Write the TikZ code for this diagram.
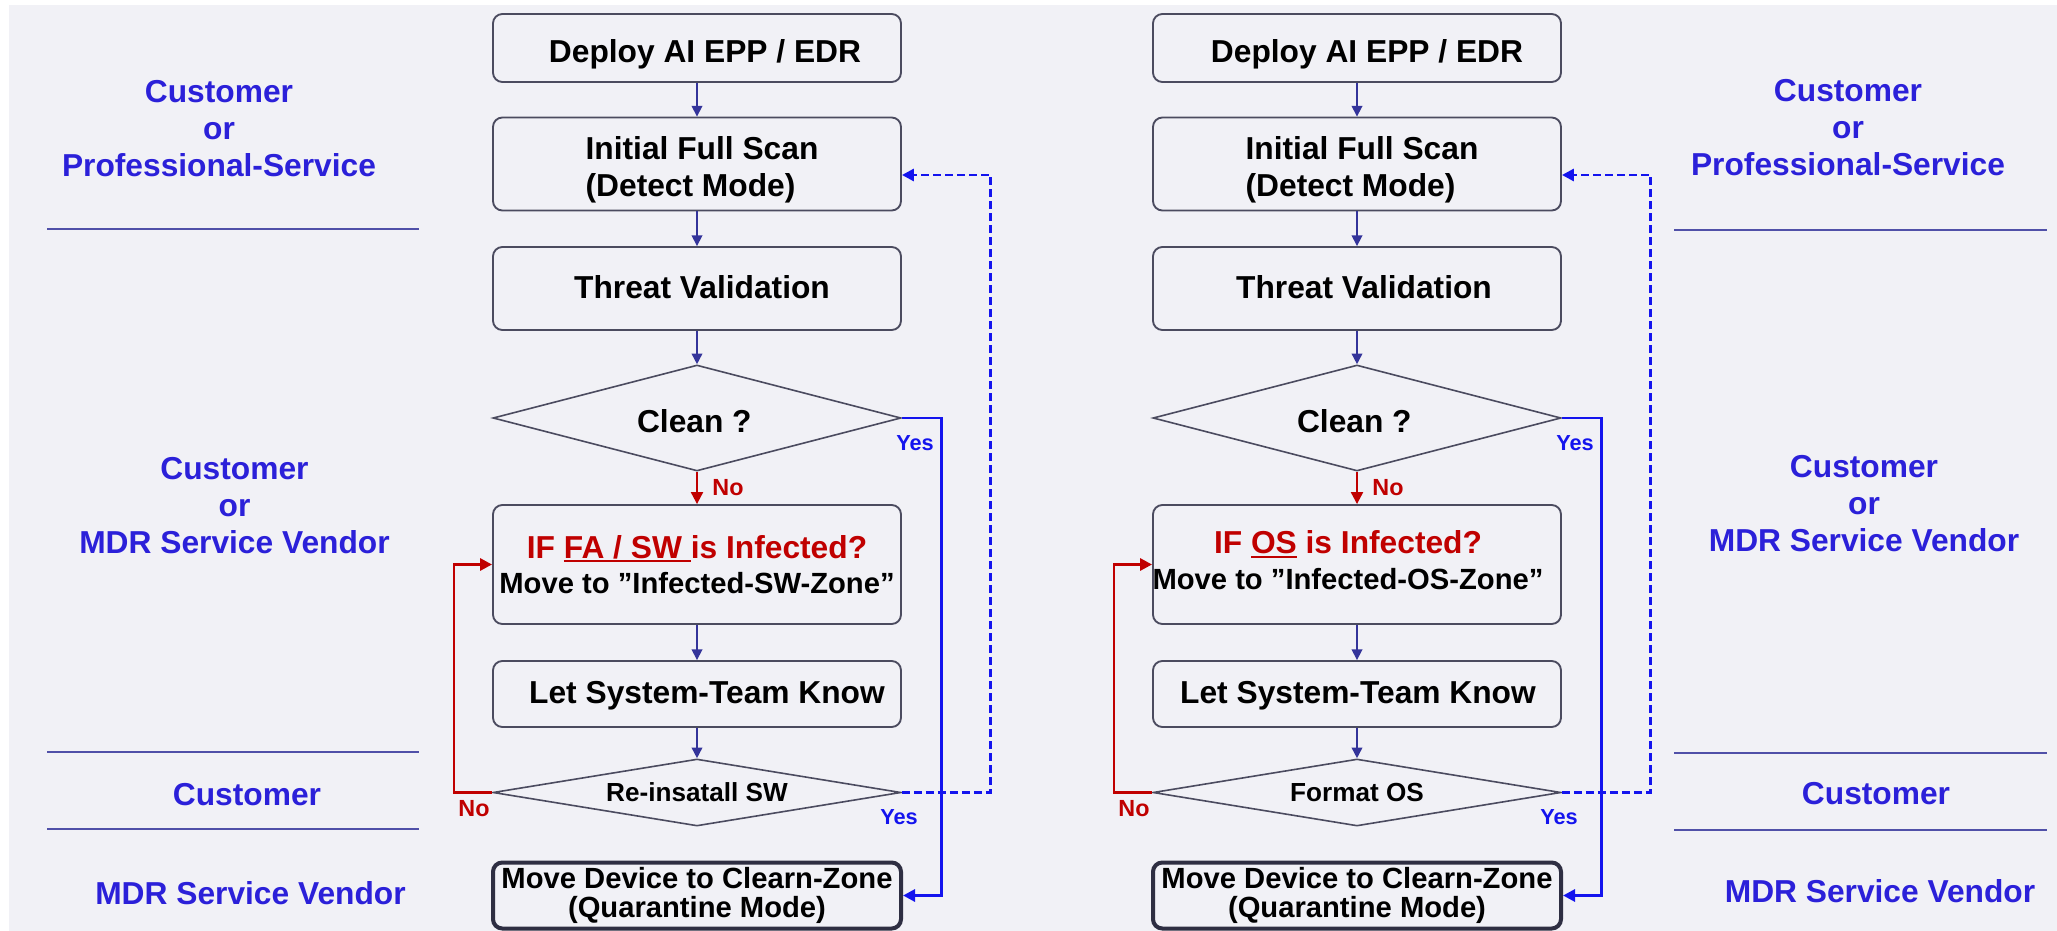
\documentclass[tikz,border=0pt]{standalone}
\usepackage{fontspec}
\setmainfont{Liberation Sans}
\usetikzlibrary{shapes.geometric,arrows.meta,calc}

\definecolor{pagebg}{HTML}{F1F1F6}
\definecolor{rolecol}{HTML}{2B20D9}
\definecolor{flowcol}{HTML}{34349A}
\definecolor{edgecol}{HTML}{4B4B5F}
\definecolor{heavyedge}{HTML}{2E2E42}
\definecolor{yescol}{HTML}{1414EE}
\definecolor{nocol}{HTML}{C00000}
\definecolor{rulecol}{HTML}{5050A8}

% underline with a rule drawn under the whole box (trailing space included)
\newcommand\ulined[1]{\setbox0=\hbox{#1}\rlap{\rule[-0.13em]{\wd0}{0.075em}}\box0\relax}
% move the ink of a box label right by #1 and down by #2, keeping its size
\newcommand\nudge[3]{\kern#1\raisebox{-#2}[\height][\depth]{#3}\kern-#1\relax}

\newcommand\bigtxt{\fontsize{23.8}{29}\selectfont\bfseries}
\newcommand\midtxt{\fontsize{21.9}{22}\selectfont\bfseries}
\newcommand\smalltxt{\fontsize{19.6}{23}\selectfont\bfseries}
\newcommand\roletxt{\fontsize{23.8}{27.75}\selectfont\bfseries}

\tikzset{
  box/.style={draw=edgecol, line width=1.4pt, rounded corners=7pt,
    minimum width=306pt, inner sep=0pt, align=center, font=\bigtxt, text=black},
  finalbox/.style={box, draw=heavyedge, line width=3pt, font=\midtxt},
  decide/.style={diamond, draw=edgecol, line width=1.2pt, minimum width=306pt,
    inner sep=0pt, text=black},
  flow/.style={draw=flowcol, line width=1.2pt, -{Triangle[length=8pt,width=8pt]}},
  yesline/.style={draw=yescol, line width=2.2pt, -{Triangle[length=9pt,width=9pt]}},
  backline/.style={yesline, dash pattern=on 6pt off 3pt},
  noline/.style={draw=nocol, line width=2.2pt, -{Triangle[length=9pt,width=9pt]}},
  yeslab/.style={text=yescol, font=\fontsize{16.3}{18}\selectfont\bfseries},
  nolab/.style={text=nocol, font=\fontsize{17.5}{20}\selectfont\bfseries},
  rolelabel/.style={text=rolecol, font=\roletxt, align=center},
  lanerule/.style={draw=rulecol, line width=1.1pt},
}

\newcommand\scantext{{\fontsize{23.8}{27.75}\selectfont\bfseries
  \begin{tabular}{@{}l@{}}Initial Full Scan\\(Detect Mode)\end{tabular}}}

\begin{document}
\begin{tikzpicture}[x=0.75pt, y=-0.75pt]
  % page and background panel
  \fill[white] (0,0) rectangle (2057,931);
  \fill[pagebg] (9,5) rectangle (2057,931);
  \useasboundingbox (0,0) rectangle (2057,931);

  % ---------- role labels, left ----------
  \node[rolelabel] (roleA1) at (219,128.7) {Customer\\or\\Professional-Service};
  \node[rolelabel] (roleB1) at (234.5,505.6) {Customer\\or\\MDR Service Vendor};
  \node[rolelabel] (roleC1) at (247,794.5) {Customer};
  \node[rolelabel] (roleD1) at (250.5,893) {MDR Service Vendor};
  \draw[lanerule] (47,229) -- (419,229);
  \draw[lanerule] (47,752) -- (419,752);
  \draw[lanerule] (47,829) -- (419,829);

  % ---------- role labels, right ----------
  \node[rolelabel] (roleA2) at (1848,127.6) {Customer\\or\\Professional-Service};
  \node[rolelabel] (roleB2) at (1864,504) {Customer\\or\\MDR Service Vendor};
  \node[rolelabel] (roleC2) at (1876,794) {Customer};
  \node[rolelabel] (roleD2) at (1880,891) {MDR Service Vendor};
  \draw[lanerule] (1674,230) -- (2047,230);
  \draw[lanerule] (1674,753) -- (2047,753);
  \draw[lanerule] (1674,830) -- (2047,830);

  % ---------- software flow (left) ----------
  \node[box, minimum height=51pt] (depL) at (697,48) {\nudge{6pt}{4.6pt}{Deploy AI EPP / EDR}};
  \node[box, minimum height=69.75pt] (scanL) at (697,164) {\nudge{3.75pt}{5.2pt}{\scantext}};
  \node[box, minimum height=62.25pt] (thrL) at (697,288.5) {\nudge{3.75pt}{-1pt}{Threat Validation}};
  \node[decide, minimum height=79.5pt, shape aspect=3.85, font=\bigtxt] (cleanL) at (697,418) {\nudge{-2pt}{2pt}{Clean ?}};
  \node[box, minimum height=89.25pt, font=\fontsize{23.8}{26.5}\selectfont\bfseries] (ifL) at (697,564.5)
    {{\color{nocol}IF \ulined{FA / SW }is Infected?}\\{\midtxt Move to ”Infected-SW-Zone”}};
  \node[box, minimum height=49.5pt] (letL) at (697,694) {\nudge{7.5pt}{1pt}{Let System-Team Know}};
  \node[decide, minimum height=50.25pt, shape aspect=6.1, font=\smalltxt] (reinL) at (697,792.5) {Re-insatall SW};
  \node[finalbox, minimum height=49.5pt] (finL) at (697,895.5) {Move Device to Clearn-Zone\\(Quarantine Mode)};

  \coordinate (dashL) at (990.4,175);
  \coordinate (yesL) at (941.4,650);
  \coordinate (loopL) at (454,564.5);

  \draw[flow] (depL) -- (scanL);
  \draw[flow] (scanL) -- (thrL);
  \draw[flow] (thrL) -- (cleanL);
  \draw[noline, line width=1.6pt] (cleanL.south) -- (ifL.north);
  \draw[flow] (ifL) -- (letL);
  \draw[flow] (letL) -- (reinL.north);
  \draw[backline] (reinL.east) -| (dashL) -- (dashL -| scanL.east);
  \draw[yesline] (cleanL.east) -| (yesL) |- (finL.east);
  \draw[noline] (reinL.west) -| (loopL) -- (ifL.west);

  \node[yeslab] (cyL) at (915,443) {Yes};
  \node[nolab] (cnL) at (728,488) {No};
  \node[nolab] (rnL) at (474,809) {No};
  \node[yeslab] (ryL) at (899,817) {Yes};

  % ---------- operating-system flow (right) ----------
  \node[box, minimum height=51pt] (depR) at (1357,48) {\nudge{7.5pt}{4.6pt}{Deploy AI EPP / EDR}};
  \node[box, minimum height=69.75pt] (scanR) at (1357,164) {\nudge{3.75pt}{5.2pt}{\scantext}};
  \node[box, minimum height=62.25pt] (thrR) at (1357,288.5) {\nudge{5.25pt}{-1pt}{Threat Validation}};
  \node[decide, minimum height=79.5pt, shape aspect=3.85, font=\bigtxt] (cleanR) at (1357,418) {\nudge{-2pt}{2pt}{Clean ?}};
  \node[box, minimum height=89.25pt] (ifR) at (1357,564.5)
    {\nudge{-6.75pt}{0pt}{\fontsize{23.8}{26.5}\selectfont\bfseries\begin{tabular}{@{}c@{}}%
      {\color{nocol}IF \ulined{OS} is Infected?}\\{\midtxt Move to ”Infected-OS-Zone”}\end{tabular}}};
  \node[box, minimum height=49.5pt] (letR) at (1357,694) {\nudge{0.75pt}{1pt}{Let System-Team Know}};
  \node[decide, minimum height=50.25pt, shape aspect=6.1, font=\smalltxt] (reinR) at (1357,792.5) {Format OS};
  \node[finalbox, minimum height=49.5pt] (finR) at (1357,895.5) {Move Device to Clearn-Zone\\(Quarantine Mode)};

  \coordinate (dashR) at (1650.4,175);
  \coordinate (yesR) at (1601.4,650);
  \coordinate (loopR) at (1114,564.5);

  \draw[flow] (depR) -- (scanR);
  \draw[flow] (scanR) -- (thrR);
  \draw[flow] (thrR) -- (cleanR);
  \draw[noline, line width=1.6pt] (cleanR.south) -- (ifR.north);
  \draw[flow] (ifR) -- (letR);
  \draw[flow] (letR) -- (reinR.north);
  \draw[backline] (reinR.east) -| (dashR) -- (dashR -| scanR.east);
  \draw[yesline] (cleanR.east) -| (yesR) |- (finR.east);
  \draw[noline] (reinR.west) -| (loopR) -- (ifR.west);

  \node[yeslab] (cyR) at (1575,443) {Yes};
  \node[nolab] (cnR) at (1388,488) {No};
  \node[nolab] (rnR) at (1134,809) {No};
  \node[yeslab] (ryR) at (1559,817) {Yes};
\end{tikzpicture}
\end{document}
